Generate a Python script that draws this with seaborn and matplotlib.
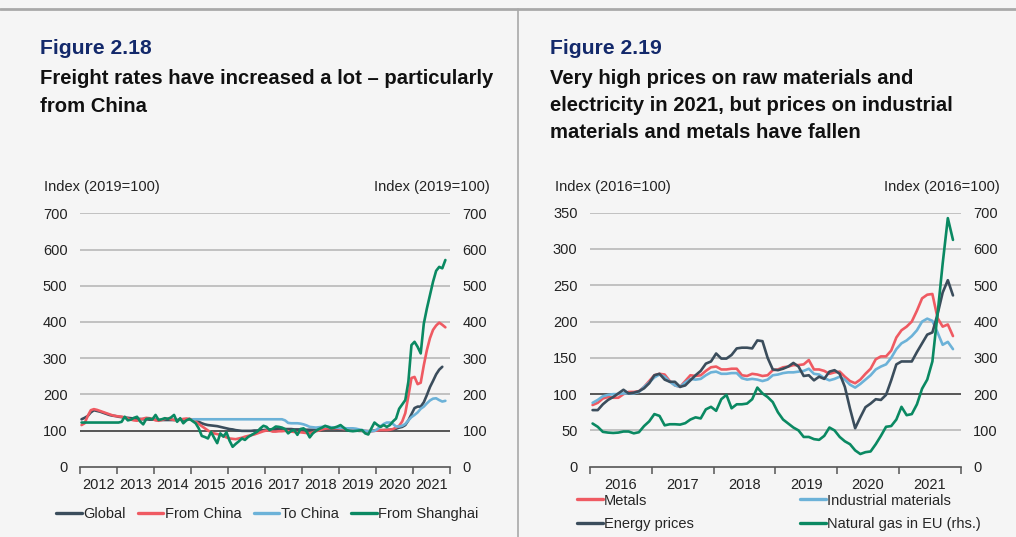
import numpy as np
import pandas as pd
import matplotlib
matplotlib.use("Agg")
import matplotlib.pyplot as plt
from matplotlib.lines import Line2D
import seaborn as sns

# ---------------- Figure 2.18: freight rates, monthly from Jan 2012 ----------------
freight_start = 2012
global_rates = [
    131, 135, 140, 150, 156, 154, 152, 149, 146, 143, 141, 140,
    138, 137, 136, 135, 134, 133, 132, 132, 131, 131, 130, 130,
    130, 129, 129, 129, 129, 129, 129, 129, 130, 130, 131, 131,
    129, 126, 124, 120, 117, 115, 114, 113, 112, 110, 108, 106,
    104, 103, 101, 100, 99, 99, 99, 99, 100, 100, 101, 101,
    102, 103, 103, 104, 104, 104, 104, 104, 104, 103, 103, 103,
    103, 102, 102, 102, 102, 103, 103, 104, 104, 104, 104, 103,
    103, 102, 101, 100, 100, 100, 99, 99, 98, 98, 99, 100,
    100, 101, 101, 102, 102, 103, 105, 108, 110, 115, 128, 145,
    162, 166, 166, 178, 198, 220, 237, 255, 268, 276,
]
from_china = [
    115, 120, 140, 156, 159, 157, 154, 151, 148, 145, 142, 140,
    139, 138, 136, 133, 130, 128, 127, 130, 133, 135, 134, 132,
    128, 127, 129, 132, 133, 131, 129, 128, 130, 132, 133, 132,
    130, 125, 118, 112, 106, 100, 95, 92, 90, 88, 85, 81,
    78, 77, 76, 78, 80, 83, 85, 87, 89, 92, 95, 98,
    100, 100, 97, 97, 98, 98, 99, 98, 97, 96, 95, 95,
    94, 93, 92, 95, 98, 100, 103, 105, 106, 106, 106, 106,
    105, 104, 103, 102, 101, 101, 100, 99, 99, 98, 98, 99,
    100, 101, 101, 101, 102, 104, 108, 113, 125, 148, 195, 245,
    248, 228, 232, 280, 322, 355, 378, 390, 398, 392, 385,
]
to_china_start = 2015
to_china = [
    131, 131, 131, 131, 131, 131, 131, 131, 131, 131, 131, 131,
    131, 131, 131, 131, 131, 131, 131, 131, 131, 131, 131, 131,
    131, 131, 131, 131, 131, 131, 128, 121, 120, 120, 120, 119,
    117, 114, 110, 109, 108, 109, 110, 111, 110, 109, 108, 108,
    107, 107, 106, 106, 106, 105, 103, 101, 99, 98, 98, 99,
    104, 112, 118, 122, 122, 118, 111, 111, 113, 118, 128, 137,
    143, 150, 160, 166, 175, 183, 188, 189, 184, 180, 182,
]
from_shanghai = [
    122, 122, 122, 122, 122, 122, 122, 122, 122, 122, 122, 122,
    122, 124, 138, 128, 130, 135, 138, 125, 117, 132, 133, 131,
    143, 129, 131, 134, 132, 136, 143, 124, 134, 120, 128, 132,
    126, 120, 106, 85, 82, 78, 96, 80, 65, 92, 83, 95,
    72, 55, 63, 70, 78, 74, 82, 87, 92, 97, 106, 113,
    110, 101, 105, 111, 110, 108, 104, 92, 99, 101, 88, 104,
    106, 97, 81, 92, 99, 104, 108, 113, 110, 106, 108, 111,
    115, 108, 101, 99, 98, 99, 100, 101, 92, 89, 106, 122,
    115, 110, 115, 110, 115, 125, 133, 160, 172, 184, 235, 336,
    345, 331, 313, 395, 437, 474, 511, 541, 552, 548, 571,
]
freight_names = ["Global", "From China", "To China", "From Shanghai"]
freight_years = [str(y) for y in range(2012, 2022)]

# ---------------- Figure 2.19: commodity prices, monthly from Jan 2016 ----------------
prices_start = 2016
metals = [
    85, 88, 94, 96, 95, 95, 100, 103, 103, 104, 110, 118,
    126, 128, 127, 118, 112, 110, 118, 126, 125, 126, 132, 137,
    138, 134, 134, 135, 135, 126, 125, 128, 127, 125, 126, 133,
    134, 137, 138, 140, 140, 141, 147, 134, 134, 132, 128, 130,
    131, 124, 118, 115, 120, 128, 135, 148, 152, 152, 160, 178,
    188, 193, 200, 215, 232, 237, 238, 205, 193, 196, 180,
]
industrial = [
    88, 92, 97, 99, 100, 100, 101, 101, 101, 103, 110, 116,
    123, 127, 124, 117, 112, 110, 116, 121, 120, 121, 126, 130,
    131, 128, 128, 129, 129, 122, 120, 121, 120, 118, 120, 126,
    127, 129, 130, 130, 131, 132, 135, 128, 127, 122, 119, 121,
    124, 120, 113, 109, 114, 120, 126, 134, 138, 141, 150, 162,
    170, 174, 180, 188, 200, 204, 201, 185, 168, 172, 162,
]
energy = [
    78, 78, 86, 92, 96, 101, 106, 101, 102, 104, 108, 115,
    126, 128, 120, 117, 117, 110, 112, 119, 126, 132, 142, 145,
    156, 149, 149, 154, 163, 164, 164, 163, 174, 173, 150, 134,
    133, 135, 138, 143, 138, 125, 126, 119, 124, 121, 131, 133,
    128, 110, 80, 53, 68, 82, 87, 93, 92, 99, 119, 141,
    145, 145, 145, 158, 170, 182, 185, 210, 240, 257, 236,
]
gas_eu = [
    119, 110, 96, 94, 93, 94, 97, 97, 92, 95, 112, 125,
    145, 140, 114, 117, 117, 116, 120, 130, 136, 133, 158, 165,
    154, 186, 198, 161, 172, 172, 174, 186, 218, 202, 192, 178,
    150, 130, 119, 108, 100, 82, 82, 76, 74, 85, 108, 100,
    82, 70, 62, 45, 35, 40, 42, 62, 85, 110, 112, 130,
    165, 142, 145, 172, 215, 240, 290, 420, 560, 685, 625,
]
price_names = ["Metals", "Industrial materials", "Energy prices", "Natural gas in EU (rhs.)"]
price_years = [str(y) for y in range(2016, 2022)]

BG = "#f5f5f5"
C_DARK, C_RED, C_BLUE, C_GREEN = "#3b4d5c", "#ef5a62", "#6cb2d8", "#0a8962"
NAVY = "#13296b"
FS = 10.5


def monthly_frame(start_year, values, name):
    t = start_year + (np.arange(len(values)) + 0.5) / 12.0
    return pd.DataFrame({"t": t, "value": values, "series": name})


sns.set_theme(style="white")
plt.rcParams["font.family"] = ["Liberation Sans", "DejaVu Sans"]
plt.rcParams["axes.facecolor"] = BG
plt.rcParams["figure.facecolor"] = BG

fig = plt.figure(figsize=(10.16, 5.37), dpi=100)
W, H = 1016, 537


def px_axes(x0, y0, x1, y1):
    return fig.add_axes([x0 / W, 1 - y1 / H, (x1 - x0) / W, (y1 - y0) / H])


def style_axes(ax, years, x0, ymax, ystep, ref):
    ax.set_xlim(x0, x0 + len(years))
    ax.set_ylim(0, ymax)
    ax.set_yticks(np.arange(0, ymax + 1, ystep))
    for v in np.arange(ystep, ymax + 1, ystep):
        ax.axhline(v, color="#2b2b2b" if v == ref else "#b3b3b3", lw=1.1, zorder=0.5)
    for s in ["top", "left", "right"]:
        ax.spines[s].set_visible(False)
    ax.spines["bottom"].set_color("#555555")
    ax.spines["bottom"].set_linewidth(1.2)
    ax.set_xticks(np.arange(x0, x0 + len(years) + 1))
    ax.set_xticks(np.arange(x0, x0 + len(years)) + 0.5, minor=True)
    ax.set_xticklabels([])
    ax.set_xticklabels(years, minor=True)
    ax.tick_params(axis="x", which="major", direction="out", length=5, width=1.1,
                   color="#555555", bottom=True)
    ax.tick_params(axis="x", which="minor", length=0, pad=8, labelsize=FS, labelcolor="#222222")
    ax.tick_params(axis="y", length=0, pad=9, labelsize=FS, labelcolor="#222222")
    ax.set_xlabel("")
    ax.set_ylabel("")
    ax.grid(False)


def right_twin(ax, ymax, ystep):
    tw = ax.twinx()
    tw.set_ylim(0, ymax)
    tw.set_yticks(np.arange(0, ymax + 1, ystep))
    for s in ["top", "left", "right", "bottom"]:
        tw.spines[s].set_visible(False)
    tw.tick_params(axis="y", length=0, pad=9, labelsize=FS, labelcolor="#222222")
    tw.grid(False)
    tw.set_ylabel("")
    return tw


# ---------- left panel ----------
ax1 = px_axes(80, 213.3, 450, 466.7)
freight = pd.concat([
    monthly_frame(freight_start, global_rates, freight_names[0]),
    monthly_frame(freight_start, from_china, freight_names[1]),
    monthly_frame(to_china_start, to_china, freight_names[2]),
    monthly_frame(freight_start, from_shanghai, freight_names[3]),
])
freight_pal = dict(zip(freight_names, [C_DARK, C_RED, C_BLUE, C_GREEN]))
sns.lineplot(data=freight, x="t", y="value", hue="series", hue_order=freight_names,
             palette=freight_pal, linewidth=1.9, legend=False, ax=ax1, zorder=3)
style_axes(ax1, freight_years, freight_start, 700, 100, 100)
right_twin(ax1, 700, 100)

# ---------- right panel ----------
ax2 = px_axes(590, 212.7, 960.7, 466.7)
prices = pd.concat([
    monthly_frame(prices_start, metals, price_names[0]),
    monthly_frame(prices_start, industrial, price_names[1]),
    monthly_frame(prices_start, energy, price_names[2]),
])
price_pal = dict(zip(price_names, [C_RED, C_BLUE, C_DARK, C_GREEN]))
sns.lineplot(data=prices, x="t", y="value", hue="series", hue_order=price_names[:3],
             palette=price_pal, linewidth=1.9, legend=False, ax=ax2, zorder=3)
style_axes(ax2, price_years, prices_start, 350, 50, 100)
tw2 = right_twin(ax2, 700, 100)
sns.lineplot(data=monthly_frame(prices_start, gas_eu, price_names[3]), x="t", y="value",
             color=C_GREEN, linewidth=1.9, legend=False, ax=tw2, zorder=3)
tw2.set_ylabel("")
tw2.set_xlim(prices_start, prices_start + len(price_years))

# ---------- texts ----------
title_font = ["Liberation Sans", "DejaVu Sans"]
TFS = 14.6
fig.text(40 / W, 1 - 48 / H, "Figure 2.18", color=NAVY, fontsize=15.2, fontweight="bold",
         family=title_font, va="center")
fig.text(40 / W, 1 - 78 / H, "Freight rates have increased a lot \u2013 particularly",
         color="#111111", fontsize=TFS, fontweight="bold", family=title_font, va="center")
fig.text(40 / W, 1 - 106 / H, "from China", color="#111111", fontsize=TFS,
         fontweight="bold", family=title_font, va="center")

fig.text(550 / W, 1 - 48 / H, "Figure 2.19", color=NAVY, fontsize=15.2, fontweight="bold",
         family=title_font, va="center")
for i, line in enumerate(["Very high prices on raw materials and",
                          "electricity in 2021, but prices on industrial",
                          "materials and metals have fallen"]):
    fig.text(550 / W, 1 - (78 + 27.5 * i) / H, line, color="#111111", fontsize=TFS,
             fontweight="bold", family=title_font, va="center")

fig.text(44 / W, 1 - 187 / H, "Index (2019=100)", fontsize=FS, color="#222222", va="center")
fig.text(490 / W, 1 - 187 / H, "Index (2019=100)", fontsize=FS, color="#222222",
         va="center", ha="right")
fig.text(555 / W, 1 - 187 / H, "Index (2016=100)", fontsize=FS, color="#222222", va="center")
fig.text(1000 / W, 1 - 187 / H, "Index (2016=100)", fontsize=FS, color="#222222",
         va="center", ha="right")

# ---------- legends ----------
def handle(c):
    return Line2D([], [], color=c, lw=2.4)

fig.legend([handle(freight_pal[n]) for n in freight_names], freight_names,
           loc="center left", bbox_to_anchor=(56 / W, 1 - 514 / H), ncol=4,
           frameon=False, fontsize=FS, handlelength=1.75, handletextpad=0.1,
           columnspacing=0.85, borderaxespad=0, borderpad=0)

# rows: Metals | Industrial materials, then Energy prices | Natural gas
legend_order = [price_names[0], price_names[2], price_names[1], price_names[3]]
fig.legend([handle(price_pal[n]) for n in legend_order], legend_order,
           loc="center left", bbox_to_anchor=(577 / W, 1 - 512.5 / H), ncol=2,
           frameon=False, fontsize=FS, handlelength=1.75, handletextpad=0.1,
           columnspacing=7.3, labelspacing=0.68, borderaxespad=0, borderpad=0)

# ---------- panel frame ----------
fig.add_artist(Line2D([0, 1], [1 - 9 / H, 1 - 9 / H], color="#a9a9a9", lw=2.0))
fig.add_artist(Line2D([518 / W, 518 / W], [0, 1 - 9 / H], color="#a9a9a9", lw=1.2))

fig.savefig("out.png", dpi=100, facecolor=BG)
